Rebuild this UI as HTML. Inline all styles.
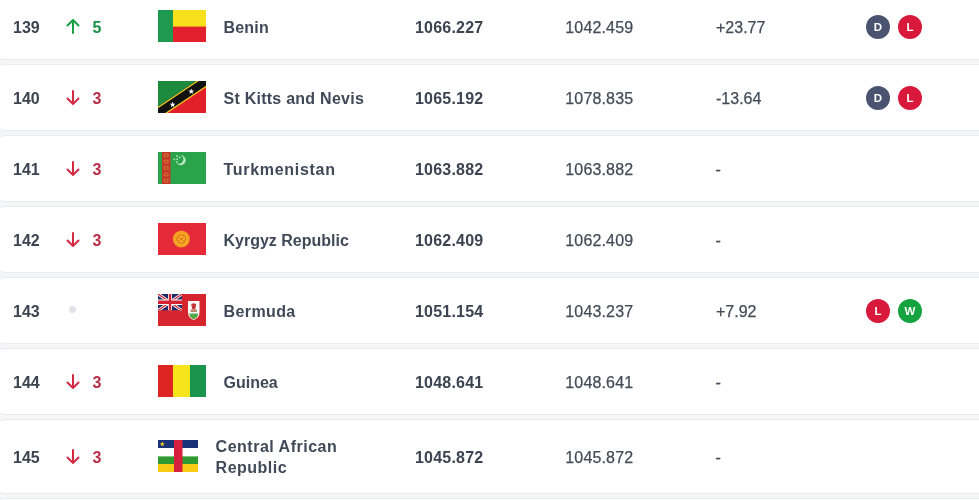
<!DOCTYPE html>
<html><head><meta charset="utf-8"><title>FIFA Ranking</title>
<style>
html,body{margin:0;padding:0}
body{width:979px;height:500px;overflow:hidden;background:#f5f6f8;position:relative;font-family:"Liberation Sans",sans-serif}
.card{position:absolute;left:-5px;width:1100px;background:#fff;border:1px solid #eaebee;border-radius:10px;box-sizing:content-box}
.t{position:absolute;font-size:16px;line-height:16px;white-space:nowrap}
.rank{font-weight:700;color:#3b4450}
.chg{font-weight:700}
.chg.up{color:#188f45}
.chg.dn{color:#b72d45}
.name{font-weight:700;color:#404958;letter-spacing:0.2px}
.name.two{line-height:21.4px;letter-spacing:0.5px}
.pts{font-weight:700;color:#3b4450;letter-spacing:0.2px}
.prev{color:#434c58;letter-spacing:0.15px;-webkit-text-stroke:0.25px #434c58}
.diff{color:#434c58;-webkit-text-stroke:0.25px #434c58}
.a{position:absolute;width:14px;height:16px}
.arr{display:block}
.dot{position:absolute;width:7px;height:7px;border-radius:50%;background:#e0e3e7}
.flag{position:absolute;display:block}
.dash{position:absolute;width:5px;height:1.5px;background:#4a5360}
.res{position:absolute;width:24px;height:24px;border-radius:50%;color:#fff;font-weight:700;font-size:11.5px;line-height:24px;text-align:center}
</style></head><body>
<div class="card" style="top:-7px;height:65px"></div>
<div class="t rank" style="left:13px;top:19.5px">139</div>
<div class="a" style="left:66px;top:18.3px"><svg class="arr" width="14" height="16" viewBox="0 0 14 16"><path d="M7 15 V2 M1.5 7.5 L7 2 L12.5 7.5" fill="none" stroke="#18a046" stroke-width="2" stroke-linecap="round" stroke-linejoin="round"/></svg></div>
<div class="t chg up" style="left:92.5px;top:19.5px">5</div>
<svg class="flag" style="left:158px;top:10px" width="48" height="32" viewBox="0 0 48 32"><rect width="48" height="32" fill="#e3202d"/><rect width="48" height="16.6" fill="#f7e01c"/><rect width="15" height="32" fill="#1d9a4f"/></svg>
<div class="t name" style="left:223.5px;top:19.5px;letter-spacing:0.2px">Benin</div>
<div class="t pts" style="left:415px;top:19.5px">1066.227</div>
<div class="t prev" style="left:565.3px;top:19.5px">1042.459</div>
<div class="t diff" style="left:716px;top:19.5px">+23.77</div>
<div class="res" style="left:866px;top:14.5px;background:#4a5470">D</div>
<div class="res" style="left:898px;top:14.5px;background:#d8193b">L</div>
<div class="card" style="top:64px;height:65px"></div>
<div class="t rank" style="left:13px;top:90.5px">140</div>
<div class="a" style="left:66px;top:89.7px"><svg class="arr" width="14" height="16" viewBox="0 0 14 16"><path d="M7 1 V14 M1.5 8.5 L7 14 L12.5 8.5" fill="none" stroke="#d42a44" stroke-width="2" stroke-linecap="round" stroke-linejoin="round"/></svg></div>
<div class="t chg dn" style="left:92.5px;top:90.5px">3</div>
<svg class="flag" style="left:158px;top:81px" width="48" height="32" viewBox="0 0 48 32"><rect width="48" height="32" fill="#e2202b"/><polygon points="0,25.7 38.55,0 48,0 48,6.3 9.45,32 0,32" fill="#f5d01b"/><polygon points="0,27.2 40.8,0 48,0 48,4.8 7.2,32 0,32" fill="#111"/><polygon points="0,0 38.55,0 0,25.7" fill="#1e8a3e"/><polygon points="14.60,20.60 15.33,22.70 17.55,22.74 15.78,24.08 16.42,26.21 14.60,24.94 12.78,26.21 13.42,24.08 11.65,22.74 13.87,22.70" fill="#fff"/><polygon points="33.30,7.40 34.03,9.50 36.25,9.54 34.48,10.88 35.12,13.01 33.30,11.74 31.48,13.01 32.12,10.88 30.35,9.54 32.57,9.50" fill="#fff"/></svg>
<div class="t name" style="left:223.5px;top:90.5px;letter-spacing:0.25px">St Kitts and Nevis</div>
<div class="t pts" style="left:415px;top:90.5px">1065.192</div>
<div class="t prev" style="left:565.3px;top:90.5px">1078.835</div>
<div class="t diff" style="left:716px;top:90.5px">-13.64</div>
<div class="res" style="left:866px;top:85.5px;background:#4a5470">D</div>
<div class="res" style="left:898px;top:85.5px;background:#d8193b">L</div>
<div class="card" style="top:135px;height:65px"></div>
<div class="t rank" style="left:13px;top:161.5px">141</div>
<div class="a" style="left:66px;top:160.7px"><svg class="arr" width="14" height="16" viewBox="0 0 14 16"><path d="M7 1 V14 M1.5 8.5 L7 14 L12.5 8.5" fill="none" stroke="#d42a44" stroke-width="2" stroke-linecap="round" stroke-linejoin="round"/></svg></div>
<div class="t chg dn" style="left:92.5px;top:161.5px">3</div>
<svg class="flag" style="left:158px;top:152px" width="48" height="32" viewBox="0 0 48 32"><rect width="48" height="32" fill="#2aa34a"/><rect x="4" width="8.5" height="32" fill="#c5382c"/><g fill="#d9822e" opacity="0.85"><ellipse cx="8.2" cy="3.3" rx="2.6" ry="2"/><ellipse cx="8.2" cy="9.6" rx="2.6" ry="2"/><ellipse cx="8.2" cy="16" rx="2.6" ry="2"/><ellipse cx="8.2" cy="22.4" rx="2.6" ry="2"/><ellipse cx="8.2" cy="28.7" rx="2.6" ry="2"/></g><g fill="#b8402a"><circle cx="8.2" cy="3.3" r="1.2"/><circle cx="8.2" cy="9.6" r="1.2"/><circle cx="8.2" cy="16" r="1.2"/><circle cx="8.2" cy="22.4" r="1.2"/><circle cx="8.2" cy="28.7" r="1.2"/></g><circle cx="22.6" cy="8.2" r="5" fill="#bfeccb"/><circle cx="20.9" cy="7.2" r="4.5" fill="#2aa34a"/><g fill="#bfeccb"><circle cx="19" cy="3.9" r="0.85"/><circle cx="21.7" cy="5.3" r="0.85"/><circle cx="16.4" cy="7.3" r="0.85"/><circle cx="19.2" cy="7.2" r="0.85"/><circle cx="19" cy="9.8" r="0.85"/></g></svg>
<div class="t name" style="left:223.5px;top:161.5px;letter-spacing:0.7px">Turkmenistan</div>
<div class="t pts" style="left:415px;top:161.5px">1063.882</div>
<div class="t prev" style="left:565.3px;top:161.5px">1063.882</div>
<div class="t diff" style="left:715.5px;top:161.5px">-</div>
<div class="card" style="top:206px;height:65px"></div>
<div class="t rank" style="left:13px;top:232.5px">142</div>
<div class="a" style="left:66px;top:231.7px"><svg class="arr" width="14" height="16" viewBox="0 0 14 16"><path d="M7 1 V14 M1.5 8.5 L7 14 L12.5 8.5" fill="none" stroke="#d42a44" stroke-width="2" stroke-linecap="round" stroke-linejoin="round"/></svg></div>
<div class="t chg dn" style="left:92.5px;top:232.5px">3</div>
<svg class="flag" style="left:158px;top:223px" width="48" height="32" viewBox="0 0 48 32"><rect width="48" height="32" fill="#e42a38"/><circle cx="23.3" cy="16" r="8.6" fill="#f39a26"/><circle cx="23.3" cy="16" r="6.6" fill="#f5b21d"/><circle cx="23.3" cy="16" r="4.3" fill="none" stroke="#e3622b" stroke-width="1.1"/><path d="M20.6 13.6 L26 18.4 M26 13.6 L20.6 18.4" stroke="#e3622b" stroke-width="0.9"/></svg>
<div class="t name" style="left:223.5px;top:232.5px;letter-spacing:0.0px">Kyrgyz Republic</div>
<div class="t pts" style="left:415px;top:232.5px">1062.409</div>
<div class="t prev" style="left:565.3px;top:232.5px">1062.409</div>
<div class="t diff" style="left:715.5px;top:232.5px">-</div>
<div class="card" style="top:277px;height:65px"></div>
<div class="t rank" style="left:13px;top:303.5px">143</div>
<div class="dot" style="left:69px;top:305.5px"></div>
<svg class="flag" style="left:158px;top:294px" width="48" height="32" viewBox="0 0 48 32"><rect width="48" height="32" fill="#d7252f"/><svg x="0" y="0" width="24" height="16.5" viewBox="0 0 60 30" preserveAspectRatio="none"><rect width="60" height="30" fill="#1f2a66"/><path d="M0,0 L60,30 M60,0 L0,30" stroke="#fff" stroke-width="6"/><path d="M0,0 L60,30 M60,0 L0,30" stroke="#d42230" stroke-width="2.5"/><path d="M30,0 V30 M0,15 H60" stroke="#fff" stroke-width="10"/><path d="M30,0 V30 M0,15 H60" stroke="#d42230" stroke-width="6"/></svg><path d="M30,7 H41.5 V18 Q41.5 24 35.75 26 Q30 24 30 18 Z" fill="#fff"/><path d="M31.2,19.5 H40.3 Q39.8 24 35.75 25.2 Q31.7 24 31.2 19.5 Z" fill="#55a847"/><path d="M33.2,10.5 Q35.75 8 38.3 10.5 L37.2 15.5 L34.3 15.5 Z" fill="#c8363a"/><rect x="32.5" y="15.5" width="6.5" height="2.5" fill="#b98a6a"/></svg>
<div class="t name" style="left:223.5px;top:303.5px;letter-spacing:0.4px">Bermuda</div>
<div class="t pts" style="left:415px;top:303.5px">1051.154</div>
<div class="t prev" style="left:565.3px;top:303.5px">1043.237</div>
<div class="t diff" style="left:716px;top:303.5px">+7.92</div>
<div class="res" style="left:866px;top:298.5px;background:#d8193b">L</div>
<div class="res" style="left:898px;top:298.5px;background:#14a33e">W</div>
<div class="card" style="top:348px;height:65px"></div>
<div class="t rank" style="left:13px;top:374.5px">144</div>
<div class="a" style="left:66px;top:373.7px"><svg class="arr" width="14" height="16" viewBox="0 0 14 16"><path d="M7 1 V14 M1.5 8.5 L7 14 L12.5 8.5" fill="none" stroke="#d42a44" stroke-width="2" stroke-linecap="round" stroke-linejoin="round"/></svg></div>
<div class="t chg dn" style="left:92.5px;top:374.5px">3</div>
<svg class="flag" style="left:158px;top:365px" width="48" height="32" viewBox="0 0 48 32"><rect width="15" height="32" fill="#df2521"/><rect x="15" width="17" height="32" fill="#f8e41b"/><rect x="32" width="16" height="32" fill="#19954d"/></svg>
<div class="t name" style="left:223.5px;top:374.5px;letter-spacing:0.0px">Guinea</div>
<div class="t pts" style="left:415px;top:374.5px">1048.641</div>
<div class="t prev" style="left:565.3px;top:374.5px">1048.641</div>
<div class="t diff" style="left:715.5px;top:374.5px">-</div>
<div class="card" style="top:419px;height:73px"></div>
<div class="t rank" style="left:13px;top:449.5px">145</div>
<div class="a" style="left:66px;top:448.7px"><svg class="arr" width="14" height="16" viewBox="0 0 14 16"><path d="M7 1 V14 M1.5 8.5 L7 14 L12.5 8.5" fill="none" stroke="#d42a44" stroke-width="2" stroke-linecap="round" stroke-linejoin="round"/></svg></div>
<div class="t chg dn" style="left:92.5px;top:449.5px">3</div>
<svg class="flag" style="left:158px;top:440px" width="40" height="32" viewBox="0 0 40 32"><rect width="40" height="8" fill="#1a3278"/><rect y="8" width="40" height="8.4" fill="#fff"/><rect y="16.4" width="40" height="7.6" fill="#2f9a2f"/><rect y="24" width="40" height="8" fill="#f9cb15"/><rect x="16" width="8.5" height="32" fill="#d6203e"/><polygon points="4.30,1.60 4.91,3.36 6.77,3.40 5.29,4.52 5.83,6.30 4.30,5.24 2.77,6.30 3.31,4.52 1.83,3.40 3.69,3.36" fill="#f9d81a"/></svg>
<div class="t name two" style="left:215.6px;top:435.9px">Central African<br>Republic</div>
<div class="t pts" style="left:415px;top:449.5px">1045.872</div>
<div class="t prev" style="left:565.3px;top:449.5px">1045.872</div>
<div class="t diff" style="left:715.5px;top:449.5px">-</div>
<div class="card" style="top:498px;height:65px"></div>
</body></html>
